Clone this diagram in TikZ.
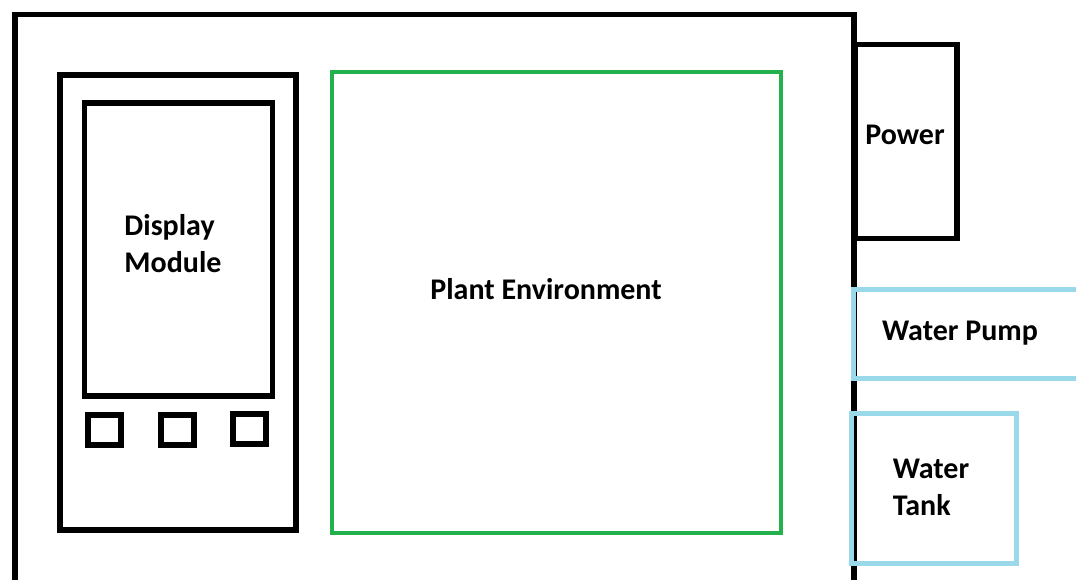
\documentclass[tikz,border=0pt]{standalone}
\usepackage{fontspec}
\setmainfont{Carlito}
\usepackage{tikz}
\usetikzlibrary{positioning}
\definecolor{plantgreen}{RGB}{34,177,76}
\definecolor{watercyan}{RGB}{153,217,234}
\tikzset{
    frame/.style = {rectangle, draw=black, line width=5.5pt, inner sep=0pt},
    plantbox/.style = {rectangle, draw=plantgreen, line width=4.5pt, inner sep=0pt},
    waterbox/.style = {rectangle, draw=watercyan, line width=5pt, inner sep=0pt},
    label/.style = {font=\fontsize{30}{37}\selectfont\bfseries, inner sep=0pt, align=left}
}

\begin{document}
\begin{tikzpicture}[x=1pt, y=-1pt]
        \useasboundingbox (0,0) rectangle (1076,580);
        \begin{scope}
        \clip (0,0) rectangle (1076,580);
        % Housing
        \node [frame, minimum width=839pt, minimum height=600pt, anchor=north west] (housing) at (12,12) {};
        
        % Display unit
        \node [frame, minimum width=236pt, minimum height=455pt] (display) at (178,302.5) {};
        \node [frame, minimum width=188pt, minimum height=293pt] (screen) at (178.5,249.5) {};
        \node [label] (screentext) at (173,244) {Display\\Module};
        
        % Buttons
        \node [frame, minimum width=33pt, minimum height=30pt] (btnA) at (104.5,430) {};
        \node [frame, minimum width=33pt, minimum height=30pt] (btnB) at (177.5,430) {};
        \node [frame, minimum width=33pt, minimum height=30pt] (btnC) at (249.5,429) {};
        
        % Plant environment
        \node [plantbox, minimum width=449pt, minimum height=461pt] (plant) at (556.5,302.5) {};
        \node [label] (planttext) at (546,289) {Plant Environment};
        
        % Power
        \node [frame, minimum width=102pt, minimum height=194pt] (power) at (906,141.5) {};
        \node [label] (powertext) at (905,135) {Power};
        
        % Water pump
        \node [waterbox, minimum width=240pt, minimum height=89pt, anchor=west] (pump) at (851,334) {};
        \node [label] (pumptext) at (960,333) {Water Pump};
        
        % Water tank
        \node [waterbox, minimum width=165pt, minimum height=150pt] (tank) at (933.5,488) {};
        \node [label] (tanktext) at (931,487) {Water\\Tank};
        \end{scope}
    \end{tikzpicture}
\end{document}
